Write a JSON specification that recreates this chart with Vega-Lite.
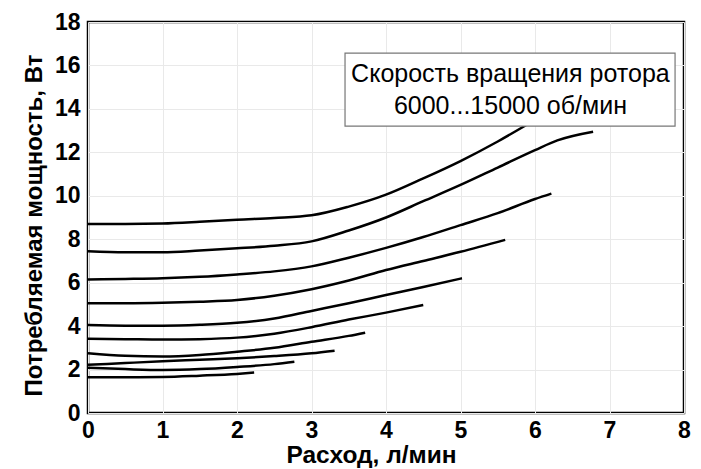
{
  "$schema": "https://vega.github.io/schema/vega-lite/v6.json",
  "autosize": "none",
  "width": 596,
  "height": 391,
  "padding": {"left": 88, "top": 22, "right": 17, "bottom": 56},
  "background": "white",
  "config": {
    "view": {"stroke": "black", "strokeWidth": 2.5},
    "font": "Liberation Sans",
    "axis": {
      "domain": false,
      "ticks": false,
      "grid": true,
      "gridColor": "#e9e9e9",
      "gridWidth": 1,
      "labelFlush": false,
      "labelFont": "Liberation Sans",
      "labelFontSize": 23,
      "labelFontWeight": "bold",
      "labelColor": "black",
      "titleFont": "Liberation Sans",
      "titleFontWeight": "bold",
      "titleColor": "black"
    }
  },
  "datasets": {
    "curves": [
      {"speed": 15000, "q": 0, "p": 8.7}, {"speed": 15000, "q": 0.5, "p": 8.7}, {"speed": 15000, "q": 1, "p": 8.72}, {"speed": 15000, "q": 1.5, "p": 8.8}, {"speed": 15000, "q": 2, "p": 8.9}, {"speed": 15000, "q": 2.5, "p": 8.98}, {"speed": 15000, "q": 3, "p": 9.1}, {"speed": 15000, "q": 3.5, "p": 9.5}, {"speed": 15000, "q": 4, "p": 10.05}, {"speed": 15000, "q": 4.5, "p": 10.8}, {"speed": 15000, "q": 5, "p": 11.6}, {"speed": 15000, "q": 5.5, "p": 12.5}, {"speed": 15000, "q": 5.88, "p": 13.25},
      {"speed": 14000, "q": 0, "p": 7.45}, {"speed": 14000, "q": 0.5, "p": 7.4}, {"speed": 14000, "q": 1, "p": 7.4}, {"speed": 14000, "q": 1.5, "p": 7.48}, {"speed": 14000, "q": 2, "p": 7.58}, {"speed": 14000, "q": 2.5, "p": 7.7}, {"speed": 14000, "q": 3, "p": 7.9}, {"speed": 14000, "q": 3.5, "p": 8.4}, {"speed": 14000, "q": 4, "p": 9.0}, {"speed": 14000, "q": 4.5, "p": 9.75}, {"speed": 14000, "q": 5, "p": 10.5}, {"speed": 14000, "q": 5.5, "p": 11.3}, {"speed": 14000, "q": 6, "p": 12.1}, {"speed": 14000, "q": 6.3, "p": 12.55}, {"speed": 14000, "q": 6.78, "p": 12.95},
      {"speed": 13000, "q": 0, "p": 6.15}, {"speed": 13000, "q": 0.5, "p": 6.17}, {"speed": 13000, "q": 1, "p": 6.2}, {"speed": 13000, "q": 1.5, "p": 6.27}, {"speed": 13000, "q": 2, "p": 6.38}, {"speed": 13000, "q": 2.5, "p": 6.52}, {"speed": 13000, "q": 3, "p": 6.75}, {"speed": 13000, "q": 3.5, "p": 7.15}, {"speed": 13000, "q": 4, "p": 7.6}, {"speed": 13000, "q": 4.5, "p": 8.1}, {"speed": 13000, "q": 5, "p": 8.65}, {"speed": 13000, "q": 5.5, "p": 9.2}, {"speed": 13000, "q": 6, "p": 9.85}, {"speed": 13000, "q": 6.22, "p": 10.1},
      {"speed": 12000, "q": 0, "p": 5.05}, {"speed": 12000, "q": 0.5, "p": 5.05}, {"speed": 12000, "q": 1, "p": 5.07}, {"speed": 12000, "q": 1.5, "p": 5.12}, {"speed": 12000, "q": 2, "p": 5.2}, {"speed": 12000, "q": 2.5, "p": 5.4}, {"speed": 12000, "q": 3, "p": 5.7}, {"speed": 12000, "q": 3.5, "p": 6.1}, {"speed": 12000, "q": 4, "p": 6.58}, {"speed": 12000, "q": 4.5, "p": 7.0}, {"speed": 12000, "q": 5, "p": 7.42}, {"speed": 12000, "q": 5.6, "p": 7.97},
      {"speed": 11000, "q": 0, "p": 4.05}, {"speed": 11000, "q": 0.5, "p": 4.02}, {"speed": 11000, "q": 1, "p": 4.02}, {"speed": 11000, "q": 1.5, "p": 4.06}, {"speed": 11000, "q": 2, "p": 4.15}, {"speed": 11000, "q": 2.5, "p": 4.35}, {"speed": 11000, "q": 3, "p": 4.7}, {"speed": 11000, "q": 3.5, "p": 5.05}, {"speed": 11000, "q": 4, "p": 5.43}, {"speed": 11000, "q": 4.5, "p": 5.8}, {"speed": 11000, "q": 5.02, "p": 6.2},
      {"speed": 10000, "q": 0, "p": 3.42}, {"speed": 10000, "q": 0.5, "p": 3.4}, {"speed": 10000, "q": 1, "p": 3.38}, {"speed": 10000, "q": 1.5, "p": 3.4}, {"speed": 10000, "q": 2, "p": 3.47}, {"speed": 10000, "q": 2.5, "p": 3.65}, {"speed": 10000, "q": 3, "p": 3.95}, {"speed": 10000, "q": 3.5, "p": 4.3}, {"speed": 10000, "q": 4, "p": 4.62}, {"speed": 10000, "q": 4.5, "p": 4.97},
      {"speed": 9000, "q": 0, "p": 2.75}, {"speed": 9000, "q": 0.5, "p": 2.63}, {"speed": 9000, "q": 1, "p": 2.6}, {"speed": 9000, "q": 1.5, "p": 2.67}, {"speed": 9000, "q": 2, "p": 2.82}, {"speed": 9000, "q": 2.5, "p": 3.0}, {"speed": 9000, "q": 3, "p": 3.28}, {"speed": 9000, "q": 3.5, "p": 3.55}, {"speed": 9000, "q": 3.72, "p": 3.7},
      {"speed": 8000, "q": 0, "p": 2.22}, {"speed": 8000, "q": 0.5, "p": 2.3}, {"speed": 8000, "q": 1, "p": 2.38}, {"speed": 8000, "q": 1.5, "p": 2.45}, {"speed": 8000, "q": 2, "p": 2.52}, {"speed": 8000, "q": 2.5, "p": 2.62}, {"speed": 8000, "q": 3, "p": 2.75}, {"speed": 8000, "q": 3.31, "p": 2.87},
      {"speed": 7000, "q": 0, "p": 2.08}, {"speed": 7000, "q": 0.5, "p": 2.02}, {"speed": 7000, "q": 1, "p": 1.98}, {"speed": 7000, "q": 1.5, "p": 2.02}, {"speed": 7000, "q": 2, "p": 2.12}, {"speed": 7000, "q": 2.5, "p": 2.25}, {"speed": 7000, "q": 2.77, "p": 2.36},
      {"speed": 6000, "q": 0, "p": 1.65}, {"speed": 6000, "q": 0.5, "p": 1.65}, {"speed": 6000, "q": 1, "p": 1.66}, {"speed": 6000, "q": 1.5, "p": 1.72}, {"speed": 6000, "q": 2, "p": 1.8}, {"speed": 6000, "q": 2.23, "p": 1.86}
    ],
    "box": [{"x1": 3.45, "x2": 7.88, "y1": 13.21, "y2": 16.57}],
    "labels": [
      {"x": 5.67, "y": 15.62, "t": "Скорость вращения ротора"},
      {"x": 5.67, "y": 14.15, "t": "6000...15000 об/мин"}
    ]
  },
  "layer": [
    {
      "data": {"name": "curves"},
      "mark": {"type": "line", "color": "black", "strokeWidth": 2.5, "interpolate": "monotone"},
      "encoding": {
        "x": {"field": "q", "type": "quantitative", "scale": {"domain": [0, 8], "nice": false}, "axis": {"values": [0,1,2,3,4,5,6,7,8], "format": "d", "title": "Расход, л/мин", "titleFontSize": 24.5, "titleX": 283, "labelPadding": 6, "titlePadding": 1}},
        "y": {"field": "p", "type": "quantitative", "scale": {"domain": [0, 18], "nice": false}, "axis": {"values": [0,2,4,6,8,10,12,14,16,18], "format": "d", "title": "Потребляемая мощность, Вт", "titleFontSize": 24, "titleY": 203, "labelPadding": 8, "titlePadding": 8}},
        "detail": {"field": "speed", "type": "nominal"}
      }
    },
    {
      "data": {"name": "box"},
      "mark": {"type": "rect", "fill": "white", "stroke": "#777777", "strokeWidth": 1.2},
      "encoding": {
        "x": {"field": "x1", "type": "quantitative"},
        "x2": {"field": "x2"},
        "y": {"field": "y1", "type": "quantitative"},
        "y2": {"field": "y2"}
      }
    },
    {
      "data": {"name": "labels"},
      "mark": {"type": "text", "font": "Liberation Sans", "fontSize": 25, "color": "black", "align": "center", "baseline": "middle"},
      "encoding": {
        "x": {"field": "x", "type": "quantitative"},
        "y": {"field": "y", "type": "quantitative"},
        "text": {"field": "t"}
      }
    }
  ]
}
